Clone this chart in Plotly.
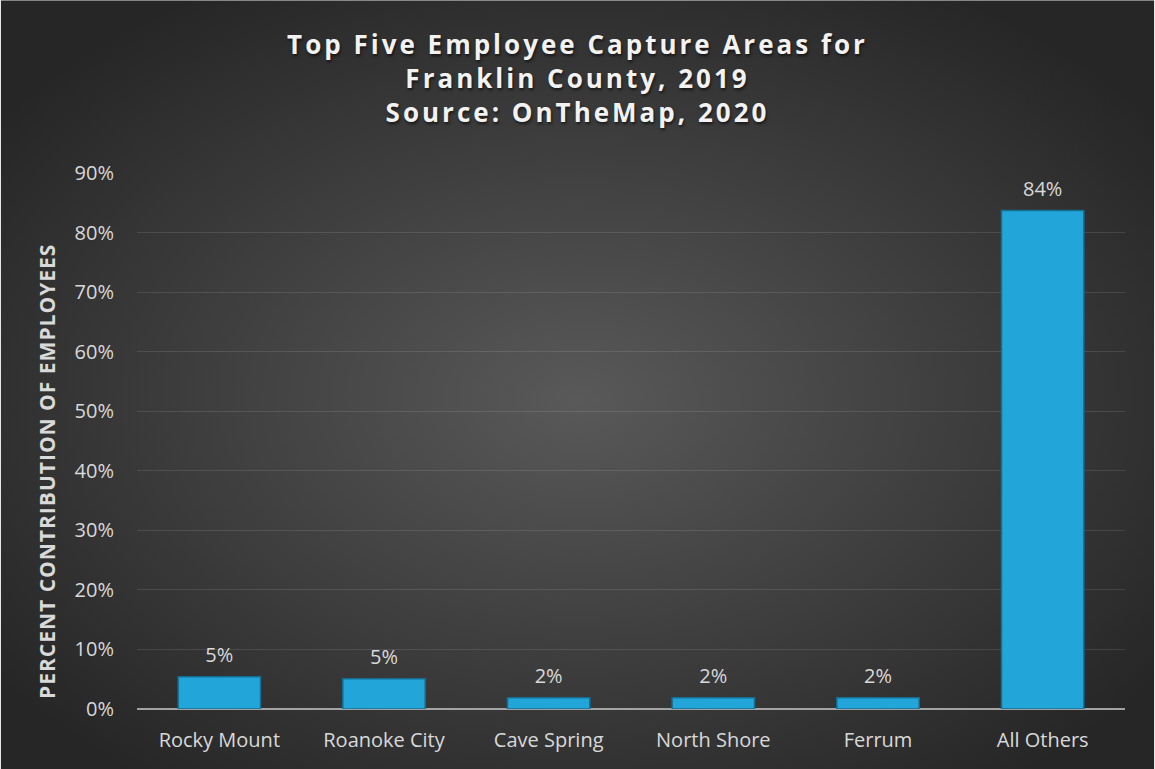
import base64
import plotly.graph_objects as go

categories = ["Rocky Mount", "Roanoke City", "Cave Spring", "North Shore", "Ferrum", "All Others"]
shares = [5.4, 5.1, 1.9, 1.9, 1.9, 83.7]
y_ticks = [0, 10, 20, 30, 40, 50, 60, 70, 80, 90]
y_tick_labels = [f"{v}%" for v in y_ticks]

W, H = 1155, 769
ML, MR, MT, MB = 137, 30, 173, 60
PW, PH = W - ML - MR, H - MT - MB

FONT = "Open Sans"
TXT = "#d9d9d9"

# Radial dark-gray background, lighter toward the centre
bg_svg = f"""<svg xmlns='http://www.w3.org/2000/svg' width='{W}' height='{H}'>
<defs><radialGradient id='g' cx='50%' cy='52%' r='62%'>
<stop offset='0%' stop-color='#595959'/>
<stop offset='100%' stop-color='#262626'/>
</radialGradient></defs>
<rect width='{W}' height='{H}' fill='url(#g)'/>
</svg>"""
bg_uri = "data:image/svg+xml;base64," + base64.b64encode(bg_svg.encode()).decode()

fig = go.Figure()
fig.add_trace(go.Bar(
    x=categories,
    y=shares,
    marker=dict(color="#22a6d9", line=dict(color="#146f95", width=1.5)),
    hoverinfo="skip",
))
# Value labels sitting above each bar
fig.add_trace(go.Scatter(
    x=categories,
    y=shares,
    mode="markers+text",
    marker=dict(size=14, opacity=0),
    text=[f"{v:.0f}%" for v in shares],
    textposition="top center",
    textfont=dict(family=FONT, size=20, color=TXT),
    cliponaxis=False,
    hoverinfo="skip",
))

title_text = "<br>".join(
    f"<span style='letter-spacing:3px'>{line}</span>"
    for line in ["Top Five Employee Capture Areas for", "Franklin County, 2019", "Source: OnTheMap, 2020"]
)

fig.update_layout(
    width=W, height=H,
    margin=dict(l=ML, r=MR, t=MT, b=MB),
    paper_bgcolor="#333333",
    plot_bgcolor="rgba(0,0,0,0)",
    bargap=0.5,
    showlegend=False,
    images=[dict(source=bg_uri, xref="paper", yref="paper",
                 x=-ML / PW, y=1 + MT / PH, sizex=W / PW, sizey=H / PH,
                 xanchor="left", yanchor="top", sizing="stretch", layer="below")],
    title=dict(
        text=title_text,
        x=0.5, xanchor="center", xref="container",
        y=1 - 54 / H, yanchor="top", yref="container",
        font=dict(family=FONT, size=26, color="#f2f2f2", weight="bold",
                  shadow="1px 2px 3px rgba(0,0,0,0.6)"),
    ),
    xaxis=dict(
        showgrid=False, showline=False, ticks="",
        ticklabelstandoff=17,
        tickfont=dict(family=FONT, size=20, color=TXT),
    ),
    yaxis=dict(
        range=[0, 90], tickvals=y_ticks, ticktext=y_tick_labels,
        showgrid=True, gridcolor="rgba(255,255,255,0.11)", gridwidth=1,
        zeroline=True, zerolinecolor="#a3a3a3", zerolinewidth=2,
        showline=False, ticks="",
        ticklabelstandoff=22,
        tickfont=dict(family=FONT, size=20, color=TXT),
    ),
    annotations=[dict(
        text="<span style='letter-spacing:1px'>PERCENT CONTRIBUTION OF EMPLOYEES</span>",
        textangle=-90,
        xref="paper", yref="paper",
        x=(47 - ML) / PW, y=(H - MB - 472) / PH,
        xanchor="center", yanchor="middle", showarrow=False,
        font=dict(family=FONT, size=21, color=TXT, weight="bold"),
    )],
    shapes=[
        dict(type="line", xref="paper", yref="paper", x0=-ML / PW, x1=-ML / PW, y0=-MB / PH, y1=1 + MT / PH,
             line=dict(color="#e6e6e6", width=2)),
        dict(type="line", xref="paper", yref="paper", x0=1 + MR / PW, x1=1 + MR / PW, y0=-MB / PH, y1=1 + MT / PH,
             line=dict(color="#e6e6e6", width=2)),
        dict(type="line", xref="paper", yref="paper", x0=-ML / PW, x1=1 + MR / PW, y0=1 + MT / PH, y1=1 + MT / PH,
             line=dict(color="#e6e6e6", width=1)),
    ],
)

fig.write_html("out.html")
